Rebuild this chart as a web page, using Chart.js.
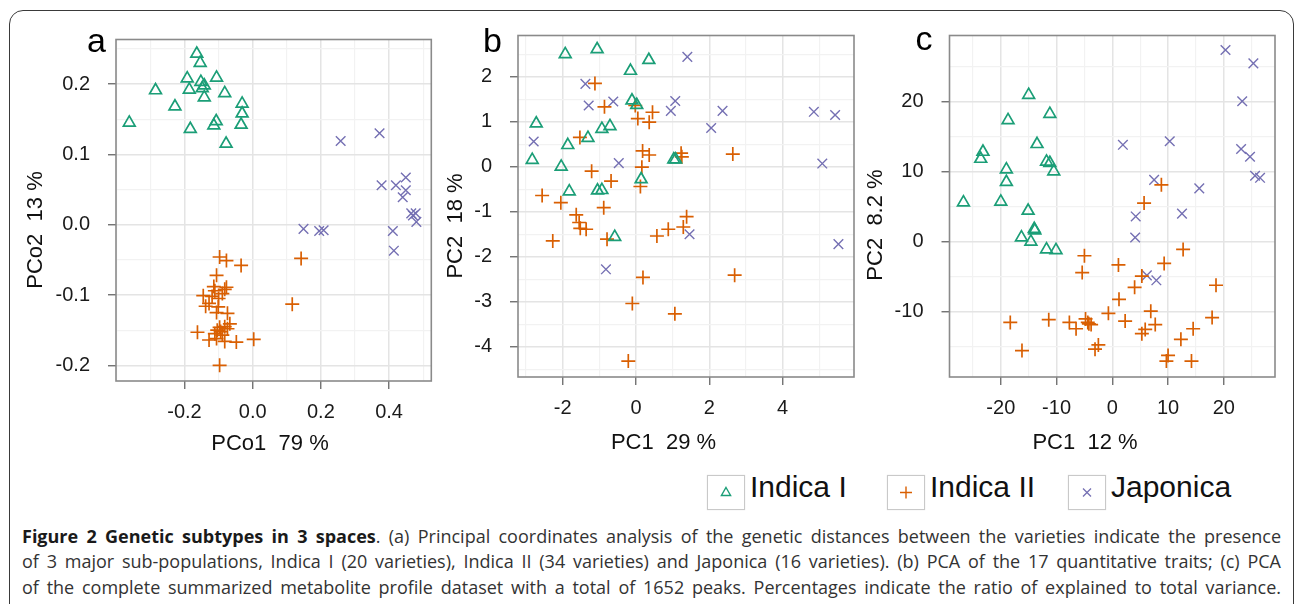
<!DOCTYPE html>
<html>
<head>
<meta charset="utf-8">
<script src="https://cdn.jsdelivr.net/npm/chart.js@4.4.1/dist/chart.umd.min.js"></script>
<style>
  body { margin: 0; width: 1295px; height: 604px; overflow: hidden; background: #fff; position: relative;
         font-family: "Liberation Sans", Arial, Helvetica, sans-serif; }
  .frame { position: absolute; left: 9px; top: 10px; width: 1285px; height: 700px; box-sizing: border-box;
           border: 1.6px solid #3a3a3a; border-radius: 14px; }
  canvas { position: absolute; }
  .lbox { position: absolute; top: 475px; width: 38px; height: 35px; box-sizing: border-box;
          border: 1.5px solid #c9c9c9; box-shadow: 0 0 1px #ddd; background: #fff; }
  .lbox svg { position: absolute; left: 0; top: 0; }
  .ltxt { position: absolute; top: 471.6px; font-size: 30px; line-height: 30px; color: #111; white-space: nowrap; }
  .cap { position: absolute; left: 22px; width: 1259px; font-family: "Open Sans", Lato, sans-serif; font-size: 18px;
         line-height: 25.5px; color: #333; text-align: justify; text-align-last: justify; white-space: nowrap; }
  .cap b { color: #1a1a1a; }
</style>
</head>
<body>
<div class="frame"></div>
<canvas id="pa" width="420" height="445" style="left:20px;top:20px"></canvas>
<canvas id="pb" width="430" height="450" style="left:440px;top:15px"></canvas>
<canvas id="pc" width="440" height="450" style="left:850px;top:15px"></canvas>
<div id="legend"></div>
<div class="cap" style="top:523.5px"><b>Figure 2 Genetic subtypes in 3 spaces</b>. (a) Principal coordinates analysis of the genetic distances between the varieties indicate the presence</div>
<div class="cap" style="top:549px">of 3 major sub-populations, Indica I (20 varieties), Indica II (34 varieties) and Japonica (16 varieties). (b) PCA of the 17 quantitative traits; (c) PCA</div>
<div class="cap" style="top:574.5px">of the complete summarized metabolite profile dataset with a total of 1652 peaks. Percentages indicate the ratio of explained to total variance.</div>
<script>
const groups = ['Indica I', 'Indica II', 'Japonica'];
const colors = ['#1b9e77', '#d95f02', '#7570b3'];

// panel a: PCo of genetic distances
const aIndica1 = [[-0.164,0.243],[-0.154,0.230],[-0.192,0.208],[-0.106,0.209],[-0.152,0.203],[-0.142,0.198],[-0.186,0.192],[-0.148,0.194],[-0.285,0.191],[-0.082,0.187],[-0.142,0.181],[-0.031,0.172],[-0.228,0.168],[-0.031,0.158],[-0.362,0.145],[-0.107,0.147],[-0.114,0.141],[-0.034,0.142],[-0.183,0.136],[-0.078,0.115]];
const aIndica2 = [[-0.097,-0.046],[-0.077,-0.051],[-0.034,-0.058],[0.142,-0.048],[-0.106,-0.072],[-0.077,-0.089],[-0.082,-0.092],[-0.111,-0.094],[-0.089,-0.098],[-0.145,-0.101],[-0.119,-0.102],[-0.100,-0.105],[-0.128,-0.112],[-0.138,-0.116],[-0.101,-0.117],[0.116,-0.113],[-0.106,-0.125],[-0.074,-0.126],[-0.067,-0.141],[-0.097,-0.146],[-0.082,-0.145],[-0.104,-0.150],[-0.094,-0.152],[-0.162,-0.153],[-0.111,-0.155],[-0.089,-0.157],[-0.128,-0.164],[-0.082,-0.166],[-0.048,-0.167],[0.003,-0.163],[-0.097,-0.200],[-0.074,-0.148],[-0.106,-0.162],[-0.114,-0.088]];
const aJaponica = [[0.372,0.130],[0.258,0.119],[0.449,0.067],[0.378,0.056],[0.420,0.056],[0.449,0.049],[0.440,0.039],[0.465,0.016],[0.478,0.016],[0.480,0.004],[0.149,-0.006],[0.195,-0.009],[0.208,-0.008],[0.411,-0.009],[0.414,-0.037],[0.470,0.013]];
const aXTicks = ['-0.2', '0.0', '0.2', '0.4'];
const aYTicks = ['-0.2', '-0.1', '0.0', '0.1', '0.2'];

// panel b: PCA of 17 traits
const bIndica1 = [[-1.93,2.50],[-1.06,2.61],[0.35,2.37],[-0.15,2.13],[-0.11,1.47],[0.02,1.37],[-2.72,0.96],[-0.93,0.84],[-0.71,0.90],[-1.31,0.64],[-1.86,0.48],[-2.83,0.15],[-2.04,0.00],[1.03,0.16],[1.08,0.16],[0.14,-0.28],[-1.82,-0.55],[-1.05,-0.53],[-0.93,-0.52],[-0.58,-1.56]];
const bIndica2 = [[-1.12,1.85],[-0.86,1.33],[-0.02,1.36],[0.45,1.21],[0.05,1.07],[0.36,0.99],[-1.53,0.65],[0.18,0.35],[0.36,0.26],[1.23,0.30],[1.25,0.22],[2.64,0.28],[0.16,-0.01],[-1.21,-0.10],[-0.68,-0.32],[0.12,-0.44],[-2.56,-0.64],[-2.05,-0.80],[-0.88,-0.91],[-1.63,-1.07],[1.38,-1.11],[-1.55,-1.24],[-1.36,-1.39],[-1.52,-1.37],[0.88,-1.39],[1.29,-1.34],[0.57,-1.54],[-2.27,-1.65],[-0.79,-1.61],[0.19,-2.46],[2.69,-2.41],[-0.10,-3.04],[1.06,-3.27],[-0.21,-4.32]];
const bJaponica = [[1.40,2.44],[-1.38,1.84],[-1.29,1.36],[-0.62,1.45],[1.07,1.46],[0.95,1.24],[2.36,1.24],[4.85,1.22],[5.43,1.15],[2.05,0.86],[-2.79,0.56],[-0.47,0.08],[5.08,0.07],[1.46,-1.50],[5.52,-1.72],[-0.82,-2.28]];
const bXTicks = ['-2', '0', '2', '4'];
const bYTicks = ['-4', '-3', '-2', '-1', '0', '1', '2'];

// panel c: PCA of metabolite profiles
const cIndica1 = [[-15.0,20.9],[-11.2,18.2],[-18.7,17.3],[-13.5,13.9],[-23.2,12.8],[-23.6,11.8],[-11.8,11.4],[-11.2,11.2],[-10.5,10.0],[-19.0,10.3],[-19.0,8.5],[-26.7,5.6],[-20.0,5.7],[-15.1,4.4],[-14.0,1.8],[-13.9,1.6],[-16.3,0.6],[-14.6,0.0],[-11.8,-1.1],[-10.1,-1.2]];
const cIndica2 = [[8.8,8.1],[5.7,5.5],[12.7,-1.1],[-5.0,-2.0],[1.1,-3.3],[9.3,-3.1],[-5.4,-4.4],[5.3,-4.9],[4.0,-6.5],[18.6,-6.2],[1.2,-8.2],[6.9,-9.9],[-0.7,-10.2],[17.9,-10.8],[-18.3,-11.5],[-11.4,-11.1],[-7.7,-11.5],[-4.8,-11.0],[-6.5,-12.4],[-4.4,-11.5],[-3.8,-11.8],[2.3,-11.3],[7.7,-11.8],[5.9,-12.5],[5.3,-13.1],[14.5,-12.4],[12.3,-13.9],[-2.5,-14.7],[-3.1,-15.3],[-16.2,-15.5],[10.0,-16.2],[9.7,-17.0],[14.2,-17.0],[-4.2,-11.7]];
const cJaponica = [[20.3,27.3],[25.3,25.4],[23.3,20.0],[1.9,13.8],[10.3,14.3],[23.1,13.2],[24.7,12.1],[25.6,9.4],[26.5,9.1],[7.5,8.8],[15.6,7.6],[12.5,4.0],[4.2,3.6],[4.1,0.6],[6.2,-4.8],[7.9,-5.5]];
const cXTicks = ['-20', '-10', '0', '10', '20'];
const cYTicks = ['-10', '0', '10', '20'];

const FONT = '"Liberation Sans", Arial, Helvetica, sans-serif';

const panelDeco = {
  id: 'panelDeco',
  afterDatasetsDraw(chart, args, o) {
    const {ctx, chartArea: ca} = chart;
    ctx.save();
    ctx.strokeStyle = '#8a8a8a';
    ctx.lineWidth = 1.6;
    ctx.strokeRect(ca.left, ca.top, ca.right - ca.left, ca.bottom - ca.top);
    ctx.fillStyle = '#111';
    ctx.font = '22px ' + FONT;
    ctx.textAlign = 'center';
    ctx.textBaseline = 'middle';
    ctx.fillText(o.xTitle, o.xAt[0], o.xAt[1]);
    ctx.save();
    ctx.translate(o.yAt[0], o.yAt[1]);
    ctx.rotate(-Math.PI / 2);
    ctx.fillText(o.yTitle, 0, 0);
    ctx.restore();
    ctx.font = '34px ' + FONT;
    ctx.textAlign = 'left';
    ctx.textBaseline = 'alphabetic';
    ctx.fillStyle = '#000';
    ctx.fillText(o.letter, o.letterAt[0], o.letterAt[1]);
    ctx.restore();
  }
};

function steps(min, max, step) {
  const out = [];
  for (let k = Math.ceil(min / step - 1e-9); k * step <= max + 1e-9; k++) {
    out.push(Math.round(k * step * 1e6) / 1e6);
  }
  return out;
}

function axis(kind, range, labels, minor, fitSize) {
  const vals = labels.map(parseFloat);
  const isMajor = v => vals.some(m => Math.abs(m - v) < 1e-7);
  return {
    type: 'linear', min: range[0], max: range[1],
    afterFit: s => {
      if (kind === 'x') s.height = fitSize; else s.width = fitSize;
      // keep the plot box exactly where the layout puts it
      s.paddingTop = s.paddingBottom = s.paddingLeft = s.paddingRight = 0;
    },
    afterBuildTicks: s => { s.ticks = steps(range[0], range[1], minor).map(v => ({value: v})); },
    ticks: {
      autoSkip: false, maxRotation: 0, padding: kind === 'x' ? 11 : 18,
      color: '#1a1a1a', font: {size: 20, family: FONT},
      callback: v => { const i = vals.findIndex(m => Math.abs(m - v) < 1e-7); return i < 0 ? '' : labels[i]; }
    },
    grid: {
      color: c => isMajor(c.tick.value) ? '#e4e4e4' : '#f2f2f2',
      lineWidth: c => isMajor(c.tick.value) ? 1.5 : 1.2,
      tickColor: c => isMajor(c.tick.value) ? '#666' : 'rgba(0,0,0,0)',
      tickWidth: 1.3, tickLength: 8
    },
    border: {display: false}
  };
}

function makePanel(id, box, plot, xr, yr, xt, yt, xMinor, yMinor, pts, deco) {
  const ds = pts.map((p, i) => ({
    label: groups[i],
    data: p.map(([x, y]) => ({x, y})),
    pointStyle: ['triangle', 'cross', 'crossRot'][i],
    pointRadius: [6.8, 7, 6.8][i],
    pointBorderWidth: [1.7, 1.7, 1.4][i],
    pointBorderColor: colors[i],
    pointBackgroundColor: 'rgba(0,0,0,0)'
  }));
  const rel = ([x, y]) => [x - box.l, y - box.t];
  new Chart(document.getElementById(id), {
    type: 'scatter',
    data: {datasets: ds},
    options: {
      responsive: false, animation: false, events: [],
      layout: {padding: {top: plot.t - box.t, right: box.l + box.w - plot.r, left: 0, bottom: 0}},
      plugins: {
        legend: {display: false}, tooltip: {enabled: false},
        panelDeco: {xTitle: deco.xTitle, yTitle: deco.yTitle, xAt: rel(deco.xAt), yAt: rel(deco.yAt),
                    letter: deco.letter, letterAt: rel(deco.letterAt)}
      },
      scales: {
        x: axis('x', xr, xt, xMinor, box.t + box.h - plot.b),
        y: axis('y', yr, yt, yMinor, plot.l - box.l)
      }
    },
    plugins: [panelDeco]
  });
}

makePanel('pa', {l: 20, t: 20, w: 420, h: 445}, {l: 116, t: 39.5, r: 435, b: 381},
  [-0.4009, 0.5238], [-0.2223, 0.2633], aXTicks, aYTicks, 0.1, 0.05,
  [aIndica1, aIndica2, aJaponica],
  {xTitle: 'PCo1  79 %', yTitle: 'PCo2  13 %', xAt: [270, 444], yAt: [36, 230], letter: 'a', letterAt: [87, 51.5]});

makePanel('pb', {l: 440, t: 15, w: 430, h: 450}, {l: 518, t: 35.5, r: 854, b: 377},
  [-3.218, 5.945], [-4.673, 2.916], bXTicks, bYTicks, 1, 0.5,
  [bIndica1, bIndica2, bJaponica],
  {xTitle: 'PC1  29 %', yTitle: 'PC2  18 %', xAt: [663.5, 443], yAt: [456, 226], letter: 'b', letterAt: [483, 51.5]});

makePanel('pc', {l: 850, t: 15, w: 440, h: 450}, {l: 949.5, t: 35.5, r: 1275, b: 377},
  [-29.2, 29.18], [-19.27, 29.37], cXTicks, cYTicks, 5, 5,
  [cIndica1, cIndica2, cJaponica],
  {xTitle: 'PC1  12 %', yTitle: 'PC2  8.2 %', xAt: [1085, 443], yAt: [876, 225], letter: 'c', letterAt: [915.5, 50]});

// shared legend under panels b and c
const legendLeft = [707, 887, 1068];
const symbols = [
  '<polygon points="19,12.5 23.6,20.5 14.4,20.5" fill="none" stroke="' + colors[0] + '" stroke-width="1.4"/>',
  '<path d="M13,17.5H25M19,11.5V23.5" stroke="' + colors[1] + '" stroke-width="1.4"/>',
  '<path d="M15,13.5L23,21.5M23,13.5L15,21.5" stroke="' + colors[2] + '" stroke-width="1.3"/>'
];
document.getElementById('legend').innerHTML = groups.map((g, i) =>
  '<div class="lbox" style="left:' + legendLeft[i] + 'px"><svg width="38" height="35" viewBox="0 0 38 35" style="left:-1.5px;top:-1.5px">' +
  symbols[i] + '</svg></div><div class="ltxt" style="left:' + (legendLeft[i] + 43) + 'px">' + g + '</div>').join('');
</script>
</body>
</html>
